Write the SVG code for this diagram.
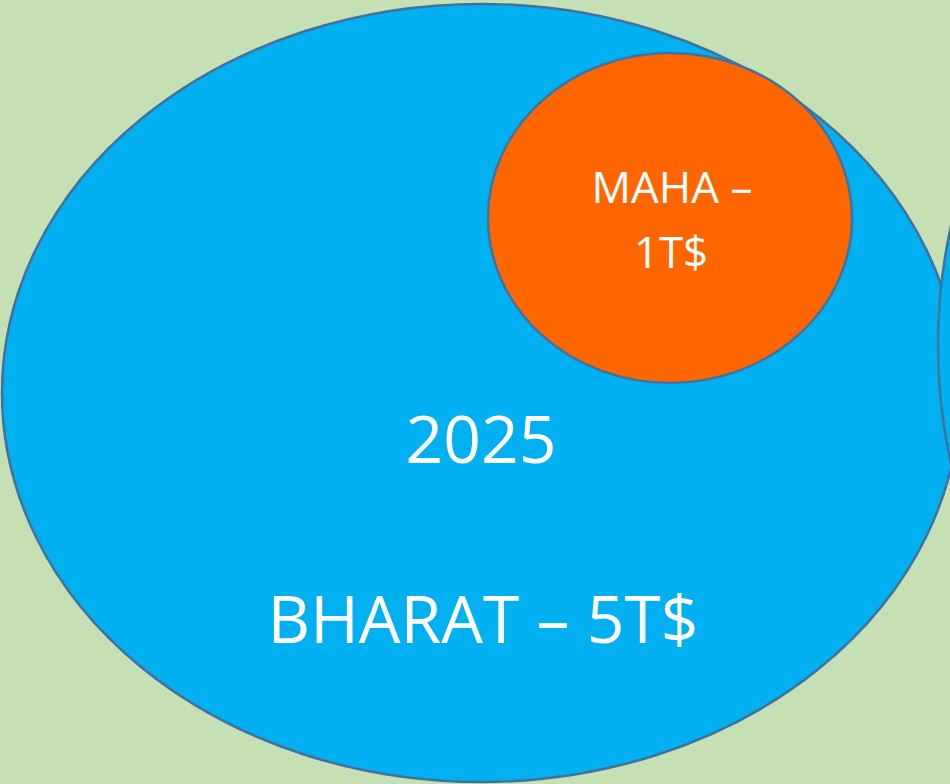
<svg xmlns="http://www.w3.org/2000/svg" width="950" height="784" viewBox="0 0 950 784">
  <style>
    .shape { stroke: #41719C; stroke-width: 2.5; }
    .blue { fill: #00B0F0; }
    .orange { fill: #FF6600; }
    .label { fill: #FFFFFF; font-family: "Open Sans", "Liberation Sans", sans-serif; text-anchor: middle; }
    .big { font-size: 66px; }
    .small { font-size: 44px; }
  </style>
  <rect width="950" height="784" fill="#C5E0B4"/>
  <g id="bharat">
    <ellipse class="shape blue" cx="481" cy="393" rx="479" ry="389"/>
    <text class="label big" x="481" y="463">2025</text>
    <text class="label big" x="483" y="643">BHARAT – 5T$</text>
  </g>
  <g id="next">
    <ellipse class="shape blue" cx="1488" cy="345" rx="550" ry="550"/>
  </g>
  <g id="maha">
    <ellipse class="shape orange" cx="670" cy="218" rx="182" ry="165"/>
    <text class="label small" x="672" y="203">MAHA –</text>
    <text class="label small" x="671" y="268">1T$</text>
  </g>
</svg>
